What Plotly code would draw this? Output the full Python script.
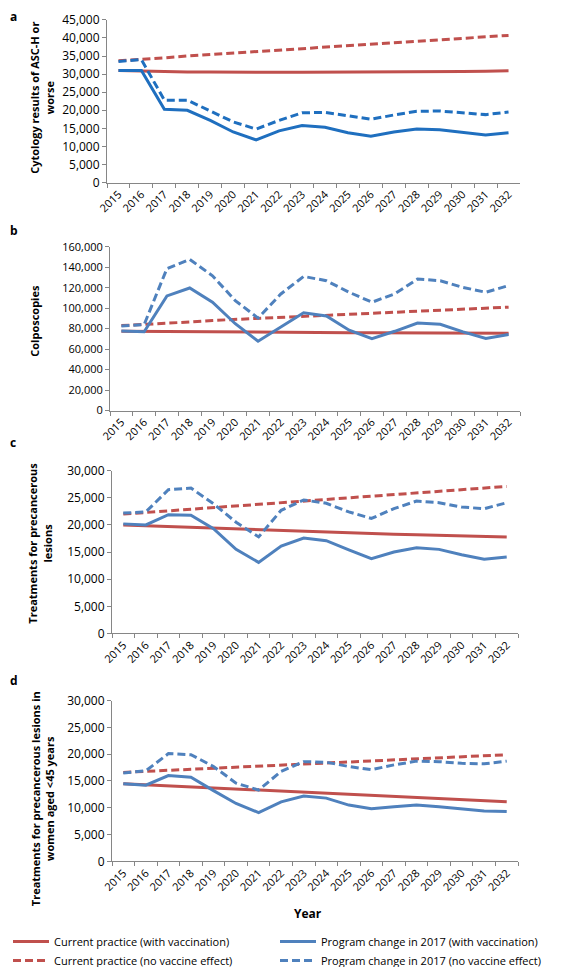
import plotly.graph_objects as go

years = [str(y) for y in range(2015, 2033)]

# Panel a: Cytology results of ASC-H or worse
a_cur_vac = [31000, 30800, 30700, 30600, 30600, 30500, 30500, 30500, 30500, 30500, 30500, 30500, 30500, 30500, 30600, 30700, 30800, 30900]
a_cur_novac = [33700, 34000, 34500, 35000, 35400, 35800, 36200, 36600, 37000, 37400, 37800, 38200, 38600, 39000, 39400, 39800, 40200, 40700]
a_prog_vac = [31000, 31000, 20300, 20000, 17200, 14000, 11800, 14300, 15800, 15300, 13800, 12800, 14000, 14800, 14600, 13800, 13200, 13800]
a_prog_novac = [33500, 34000, 22800, 22800, 19800, 16800, 14800, 17200, 19300, 19400, 18500, 17500, 18700, 19700, 19800, 19400, 18800, 19500]

# Panel b: Colposcopies
b_cur_vac = [77500, 77300, 77100, 77000, 76800, 76700, 76500, 76400, 76300, 76200, 76100, 76000, 75900, 75800, 75700, 75600, 75600, 75500]
b_cur_novac = [83000, 84000, 85500, 86500, 88000, 89000, 90000, 91000, 92000, 93000, 94000, 95000, 96000, 97000, 98000, 99000, 100000, 101000]
b_prog_vac = [77700, 77000, 112000, 119700, 105800, 84800, 67700, 81600, 95500, 92300, 78400, 70300, 77400, 85500, 84200, 76800, 70300, 74200]
b_prog_novac = [82600, 84000, 138700, 147700, 131600, 107400, 90300, 113900, 131000, 126800, 115500, 105800, 114000, 128400, 126800, 120300, 115500, 122000]

# Panel c: Treatments for precancerous lesions
c_cur_vac = [20000, 19850, 19700, 19550, 19400, 19250, 19100, 18950, 18800, 18650, 18500, 18400, 18300, 18200, 18100, 18000, 17900, 17800]
c_cur_novac = [22000, 22300, 22600, 22900, 23200, 23500, 23800, 24100, 24400, 24700, 25000, 25300, 25600, 25900, 26200, 26500, 26800, 27100]
c_prog_vac = [20200, 20000, 21900, 21800, 19300, 15500, 13100, 16100, 17600, 17100, 15400, 13800, 15000, 15800, 15500, 14500, 13700, 14100]
c_prog_novac = [22200, 22400, 26500, 26800, 23900, 20500, 17800, 22700, 24600, 24000, 22400, 21200, 23000, 24400, 24100, 23300, 23000, 24100]

# Panel d: Treatments for precancerous lesions in women aged <45 years
d_cur_vac = [14500, 14300, 14100, 13900, 13700, 13500, 13300, 13100, 12900, 12700, 12500, 12300, 12100, 11900, 11700, 11500, 11300, 11100]
d_cur_novac = [16600, 16800, 17000, 17200, 17400, 17600, 17800, 18000, 18200, 18400, 18600, 18800, 19000, 19200, 19400, 19600, 19800, 19900]
d_prog_vac = [14500, 14200, 16000, 15700, 13200, 10800, 9100, 11100, 12200, 11800, 10500, 9800, 10200, 10500, 10200, 9800, 9400, 9300]
d_prog_novac = [16500, 16900, 20100, 19900, 17700, 14600, 13300, 16800, 18600, 18500, 17700, 17100, 18000, 18700, 18600, 18300, 18200, 18700]

names = ["Current practice (with vaccination)", "Current practice (no vaccine effect)",
         "Program change in 2017 (with vaccination)", "Program change in 2017 (no vaccine effect)"]
ranks = [1, 3, 2, 4]

panels = [
    (a_cur_vac, a_cur_novac, a_prog_vac, a_prog_novac),
    (b_cur_vac, b_cur_novac, b_prog_vac, b_prog_novac),
    (c_cur_vac, c_cur_novac, c_prog_vac, c_prog_novac),
    (d_cur_vac, d_cur_novac, d_prog_vac, d_prog_novac),
]
yranges = [(0, 45000, 5000), (0, 160000, 20000), (0, 30000, 5000), (0, 30000, 5000)]
ytitles = ["Cytology results of ASC-H or<br>worse", "Colposcopies",
           "Treatments for precancerous<br>lesions", "Treatments for precancerous lesions in<br>women aged <45 years"]
letters = ["a", "b", "c", "d"]

H = 967.0
W = 567.0
ypix = [(12, 177), (242, 408), (469, 634), (702, 865)]
xpix = [(99, 512), (102, 512), (104, 510), (104, 510)]
letter_y = [9, 226, 440, 682]
title_x = [34, 27, 32, 34]
title_y = [91, 317, 543, 802]

RED = "#C0504D"
BLUE_A = "#1F6FBF"
BLUE = "#4F81BD"
DASH = "8px,4px"
FONT = "Open Sans"

fig = go.Figure()
layout = {}
annotations = []
for i, series in enumerate(panels):
    sfx = "" if i == 0 else str(i + 1)
    xa = "x" + sfx
    ya = "y" + sfx
    blue = BLUE_A if i == 0 else BLUE
    styles = [(RED, "solid"), (RED, DASH), (blue, "solid"), (blue, DASH)]
    order = [0, 1, 3, 2]
    for k in order:
        col, dash = styles[k]
        fig.add_trace(go.Scatter(
            x=years, y=series[k], mode="lines", name=names[k],
            line=dict(color=col, width=3, dash=dash),
            xaxis=xa, yaxis=ya, showlegend=(i == 3), legendrank=ranks[k],
            hoverinfo="skip"))
    x0, x1 = xpix[i]
    y0, y1 = ypix[i]
    lo, hi, step = yranges[i]
    layout["xaxis" + sfx] = dict(
        domain=[x0 / W, x1 / W], anchor=ya, type="category",
        tickson="boundaries", ticks="outside", ticklen=4, tickcolor="#868686",
        showline=True, linecolor="#868686", linewidth=1, showgrid=False,
        tickangle=-45, tickfont=dict(family=FONT, size=11, color="#000000"),
        range=[-0.5, 17.5], zeroline=False, automargin=False)
    layout["yaxis" + sfx] = dict(
        domain=[1 - y1 / H, 1 - y0 / H], anchor=xa, range=[lo, hi],
        tick0=0, dtick=step, tickformat=",d", ticks="outside", ticklen=4,
        tickcolor="#868686", showline=True, linecolor="#868686", linewidth=1,
        showgrid=False, zeroline=False, automargin=False,
        tickfont=dict(family=FONT, size=12 if i != 1 else 11, color="#000000"))
    annotations.append(dict(
        text="<b>" + ytitles[i] + "</b>", textangle=-90, xref="paper", yref="paper",
        x=title_x[i] / W, y=1 - title_y[i] / H, showarrow=False,
        font=dict(family=FONT, size=11, color="#000000"), xanchor="center", yanchor="middle"))
    annotations.append(dict(
        text="<b>" + letters[i] + "</b>", xref="paper", yref="paper",
        x=0, y=1 - letter_y[i] / H, showarrow=False, xanchor="left", yanchor="middle",
        font=dict(family=FONT, size=12, color="#000000")))

annotations.append(dict(
    text="<b>Year</b>", xref="paper", yref="paper", x=300 / W, y=1 - 918 / H,
    showarrow=False, font=dict(family=FONT, size=12, color="#000000"),
    xanchor="center", yanchor="middle"))

fig.update_layout(
    width=567, height=967, margin=dict(l=0, r=0, t=0, b=0),
    paper_bgcolor="white", plot_bgcolor="white",
    annotations=annotations,
    legend=dict(orientation="h", x=0, y=1 - 932 / H, xanchor="left", yanchor="top",
                entrywidth=216, entrywidthmode="pixels", tracegroupgap=0,
                font=dict(family=FONT, size=11, color="#000000"), itemwidth=36,
                bgcolor="rgba(0,0,0,0)"),
    **layout)

fig.write_html("out.html")
